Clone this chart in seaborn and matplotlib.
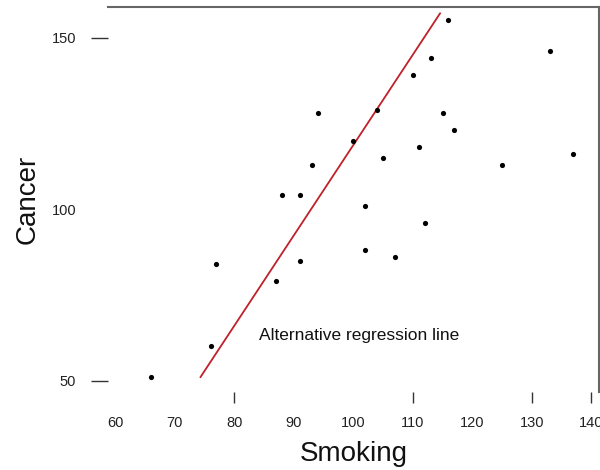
import matplotlib
matplotlib.use("Agg")
import matplotlib.pyplot as plt
import seaborn as sns
import pandas as pd

# smoking index vs lung cancer mortality, one point per occupational group
smoking = [77, 137, 117, 94, 116, 102, 111, 93, 88, 102, 91, 104, 107,
           112, 113, 110, 125, 133, 115, 105, 87, 91, 100, 76, 66]
cancer = [84, 116, 123, 128, 155, 101, 118, 113, 104, 88, 104, 129, 86,
          96, 144, 139, 113, 146, 128, 115, 79, 85, 120, 60, 51]

# endpoints of the hand-drawn "alternative" line (data units)
alt_line_x = [74.3, 114.6]
alt_line_y = [51.0, 157.1]

x_ticks = [60, 70, 80, 90, 100, 110, 120, 130, 140]
y_ticks = [50, 100, 150]
# only these tick marks survive in the original picture
x_marks = [80, 110, 130, 140]
y_marks = [50, 150]

df = pd.DataFrame({"Smoking": smoking, "Cancer": cancer})
line_df = pd.DataFrame({"Smoking": alt_line_x, "Cancer": alt_line_y})

sns.set_theme(style="white")
plt.rcParams["font.family"] = ["Liberation Sans", "DejaVu Sans"]

fig = plt.figure(figsize=(6, 4.7), dpi=100)
ax = fig.add_axes([0.18, 0.166, 0.8183, 0.8197])

sns.scatterplot(data=df, x="Smoking", y="Cancer", ax=ax, color="black",
                s=14, linewidth=0, zorder=3)
sns.lineplot(data=line_df, x="Smoking", y="Cancer", ax=ax, color="#c0202a",
             linewidth=1.3, sort=False, estimator=None, zorder=2)

ax.text(101, 63.2, "Alternative regression line", ha="center", va="center",
        fontsize=12.5, color="#111111")

ax.set_xlim(58.77, 141.3)
ax.set_ylim(46.7, 159.0)

# labels without marks on the major ticks, short marks on the minor ones
ax.xaxis.remove_overlapping_locs = False
ax.yaxis.remove_overlapping_locs = False
ax.set_xticks(x_ticks)
ax.set_yticks(y_ticks)
ax.set_xticks(x_marks, minor=True)
ax.set_yticks(y_marks, minor=True)
ax.tick_params(axis="x", which="major", length=0, pad=17, labelsize=10.5,
               labelcolor="#222222")
ax.tick_params(axis="y", which="major", length=0, pad=23, labelsize=10.5,
               labelcolor="#222222")
ax.tick_params(axis="x", which="minor", bottom=True, direction="out",
               length=8, width=1, color="#333333")
ax.tick_params(axis="y", which="minor", left=True, direction="out",
               length=12.5, width=1, color="#333333")

for side in ["left", "bottom"]:
    ax.spines[side].set_visible(False)
for side in ["top", "right"]:
    ax.spines[side].set_visible(True)
    ax.spines[side].set_color("#666666")
    ax.spines[side].set_linewidth(1.5)

ax.set_xlabel("Smoking", fontsize=20, labelpad=8, color="#111111")
ax.set_ylabel("Cancer", fontsize=20, labelpad=8, color="#111111")
ax.grid(False)

fig.savefig("out.png", dpi=100)
